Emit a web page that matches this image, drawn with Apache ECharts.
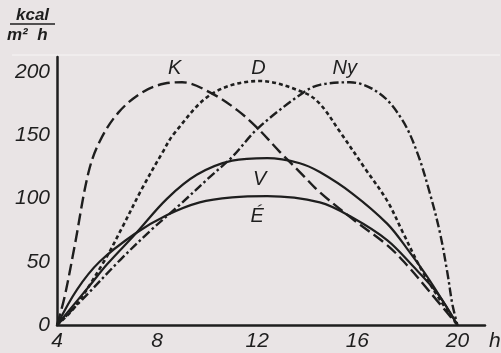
<!doctype html>
<html lang="hu">
<head>
    <meta charset="UTF-8">
    <title>kcal/m2h</title>
    <style>
        body { margin: 0; padding: 0; background: #e9e4e5; }
        #main { width: 501px; height: 353px; }
    </style>
</head>
<body>
    <div id="main"></div>
    <script src="https://cdn.jsdelivr.net/npm/echarts@6/dist/echarts.min.js"></script>
    <script>
        // értékek: [óra, kcal/m2h]
        var kData = [[4,0],[4.3,22],[4.7,62],[5.25,120],[5.7,145],[6.45,168],[7.4,184],[8.3,191],[9,192],
            [10.2,183],[11.2,170],[12,156],[12.9,137],[13.8,119],[14.5,105],[15.8,84],[17.2,63],[18,47],[18.9,26],[20,0]];
        var dData = [[4,0],[4.7,14],[5.9,51],[6.6,77],[7.4,108],[8.2,136],[8.7,152],[10.2,183],[12.1,193],
            [13.85,184],[14.5,175],[15.3,153],[16.3,124],[17.2,98],[17.8,74],[18.5,46],[19.3,20],[20,0]];
        var nyData = [[4,0],[5.2,24],[6.5,51],[7.7,74],[8.9,95],[10.1,117],[11,133],[12.05,156],
            [13.85,184],[14.5,190],[15.7,192],[16.9,183],[17.8,162],[18.4,136],[18.9,104],[19.3,73],[19.6,41],[19.8,16],[20,0]];
        var vData = [[4,0],[5.3,31],[6,48],[7.13,72],[8.4,100],[9.6,119],[11,130],[12.4,132],[13.7,128],
            [14.5,121],[15.8,104],[17.2,80],[18,60],[18.9,35],[20,0]];
        var eData = [[4,0],[4.8,28],[5.7,50],[7.1,72],[8.4,87],[9.7,97],[11,101],[12.4,102],[14.5,97],
            [15.8,85],[17.2,67],[18.2,47],[19.2,25],[20,0]];

        var curveNames = ['K', 'D', 'Ny', 'V', 'É'];
        var labelPos = [[8.7,203],[12.05,203],[15.5,203],[12.1,115],[12,86]];

        var ink = '#1e1e1e';
        var lab = { fontStyle: 'italic', fontFamily: 'Liberation Sans', fontSize: 21, color: ink };

        function curve(name, data, dash, w) {
            return {
                name: name, type: 'line', data: data, showSymbol: false,
                smooth: 0.35,
                lineStyle: { color: ink, width: w, type: dash }
            };
        }

        var myChart = echarts.init(document.getElementById('main'));
        var option = {
            backgroundColor: '#e9e4e5',
            animation: false,
            grid: { left: 57, right: 16, top: 57, bottom: 28 },
            xAxis: {
                type: 'value', min: 4, max: 21.1, interval: 4,
                axisLine: { lineStyle: { color: ink, width: 2.5 } },
                axisTick: { show: false },
                splitLine: { show: false },
                axisLabel: Object.assign({ margin: 6, formatter: function (v) { return v % 4 === 0 ? v : ''; } }, lab)
            },
            yAxis: {
                type: 'value', min: 0, max: 212, interval: 50,
                axisLine: { show: true, lineStyle: { color: ink, width: 2.5 } },
                axisTick: { show: false },
                splitLine: { show: false },
                axisLabel: Object.assign({ margin: 7, formatter: function (v) { return v % 50 === 0 ? v : ''; } }, lab)
            },
            series: [
                curve('K', kData, [12, 5], 2.4),
                curve('D', dData, [4, 3], 2.6),
                curve('Ny', nyData, [9, 3, 2.5, 3], 2.4),
                curve('V', vData, 'solid', 2.2),
                curve('É', eData, 'solid', 2.2)
            ],
            graphic: [
                { type: 'line', shape: { x1: 12, y1: 55, x2: 500, y2: 55 }, style: { stroke: '#f7f5f5', lineWidth: 1 } },
                { type: 'text', left: 16, top: 7, style: { text: 'kcal', font: 'italic bold 17px Liberation Sans', fill: ink } },
                { type: 'line', shape: { x1: 10, y1: 24, x2: 55, y2: 24 }, style: { stroke: ink, lineWidth: 1.5 } },
                { type: 'text', left: 7, top: 27, style: { text: 'm²  h', font: 'italic bold 17px Liberation Sans', fill: ink } },
                { type: 'text', left: 489, top: 331, style: { text: 'h', font: 'italic 21px Liberation Sans', fill: ink } }
            ]
        };
        myChart.setOption(option);

        // görbenevek a tengelyek skáláján keresztül elhelyezve
        var nameTexts = labelPos.map(function (p, i) {
            var px = myChart.convertToPixel('grid', p);
            return {
                type: 'text', x: px[0], y: px[1],
                style: { text: curveNames[i], font: 'italic 20px Liberation Sans', fill: ink, align: 'center', verticalAlign: 'middle' }
            };
        });
        myChart.setOption({ graphic: option.graphic.concat(nameTexts) });
    </script>
</body>
</html>
